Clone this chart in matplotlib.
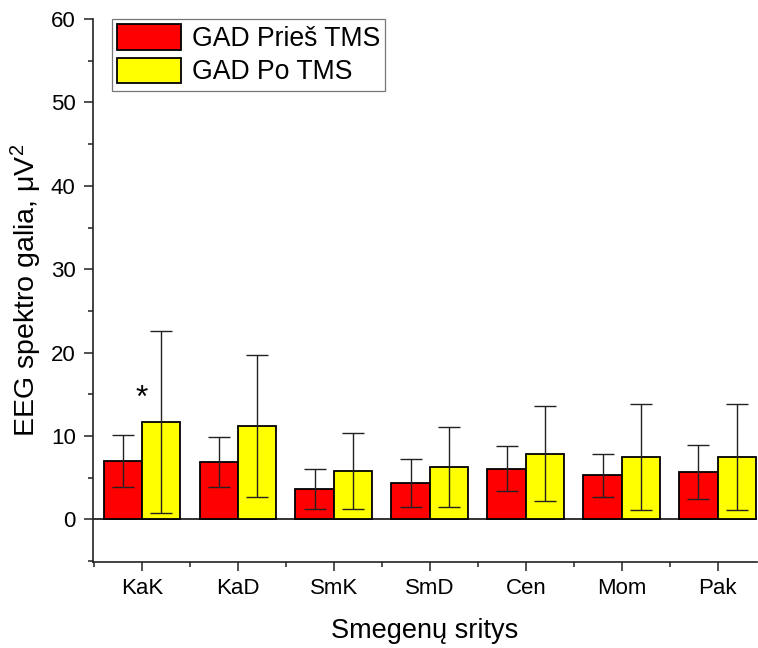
import numpy as np
import matplotlib.pyplot as plt
from matplotlib.ticker import MultipleLocator, FixedLocator

plt.rcParams['font.family'] = ['Liberation Sans', 'DejaVu Sans']

regions = ["KaK", "KaD", "SmK", "SmD", "Cen", "Mom", "Pak"]
before_mean = [7.0, 6.9, 3.7, 4.4, 6.1, 5.3, 5.7]
before_sd = [3.1, 2.95, 2.4, 2.9, 2.7, 2.55, 3.25]
after_mean = [11.7, 11.2, 5.8, 6.3, 7.9, 7.5, 7.5]
after_sd = [10.9, 8.5, 4.6, 4.8, 5.7, 6.35, 6.4]

x = np.arange(len(regions))
w = 0.4

fig = plt.figure(figsize=(7.58, 6.48), dpi=100)
ax = fig.add_axes([0.1227, 0.1327, 0.8760, 0.838])

err_kw = dict(ecolor="#222222", elinewidth=1.0, capthick=1.0)
ax.bar(x - w / 2, before_mean, w, yerr=before_sd, color="#ff0000",
       edgecolor="black", linewidth=1.3, capsize=8, error_kw=err_kw,
       label="GAD Prieš TMS", zorder=2)
ax.bar(x + w / 2, after_mean, w, yerr=after_sd, color="#ffff00",
       edgecolor="black", linewidth=1.3, capsize=8, error_kw=err_kw,
       label="GAD Po TMS", zorder=2)
ax.axhline(0, color="#222222", linewidth=1.3, zorder=1)

# significance mark over the first region
ax.text(x[0], 14.4, "*", ha="center", va="center", fontsize=23)

ax.set_xlim(-0.51, 6.41)
ax.set_ylim(-5.1, 60)
ax.set_xticks(x)
ax.set_xticklabels(regions)
ax.xaxis.set_minor_locator(FixedLocator(np.arange(-0.5, 6.5, 1.0)))
ax.yaxis.set_major_locator(MultipleLocator(10))
ax.yaxis.set_minor_locator(MultipleLocator(5))
ax.tick_params(axis="both", which="major", direction="out", length=6.5,
               width=1.1, labelsize=16, color="#222222")
ax.tick_params(axis="both", which="minor", direction="out", length=3.5,
               width=1.1, color="#222222")
ax.tick_params(axis="y", which="major", pad=6)
ax.tick_params(axis="x", which="major", pad=5)

for side in ("top", "right"):
    ax.spines[side].set_visible(False)
for side in ("left", "bottom"):
    ax.spines[side].set_linewidth(1.2)
    ax.spines[side].set_color("#222222")

ax.set_ylabel("EEG spektro galia, $\\mathregular{\\mu V^2}$", fontsize=20.5, labelpad=5)
ax.set_xlabel("Smegenų sritys", fontsize=19.5, labelpad=14)

leg = ax.legend(loc="upper left", bbox_to_anchor=(0.028, 1.0), fontsize=19.2,
                frameon=True, fancybox=False, edgecolor="#555555",
                handlelength=2.4, handleheight=1.1, handletextpad=0.4,
                borderpad=0.2, labelspacing=0.2, borderaxespad=0.0)
leg.get_frame().set_linewidth(0.9)

fig.savefig("out.png", dpi=100)
